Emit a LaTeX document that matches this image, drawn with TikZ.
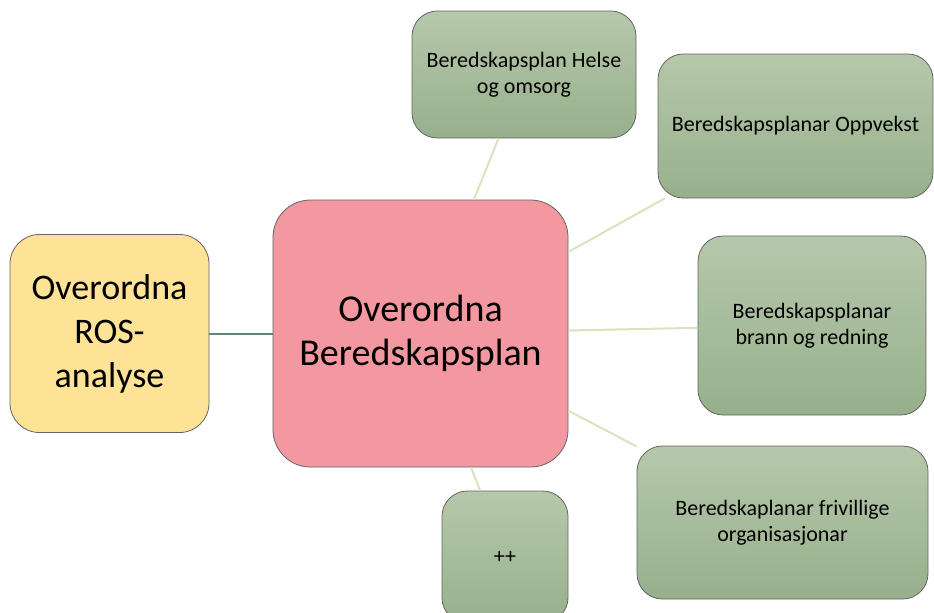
\documentclass[tikz,border=0pt]{standalone}
\usepackage{fontspec}
\setmainfont{Carlito}

\definecolor{greentop}{RGB}{182,200,171}
\definecolor{greenbot}{RGB}{151,176,139}
\definecolor{planpink}{RGB}{243,152,160}
\definecolor{rosyellow}{RGB}{254,227,150}
\definecolor{boxedge}{RGB}{100,100,100}
\definecolor{spokegreen}{RGB}{215,228,190}
\definecolor{rosline}{RGB}{94,134,120}

\tikzset{
  planbox/.style={draw=boxedge, line width=0.6pt, rounded corners=19pt,
    top color=greentop, bottom color=greenbot, align=center, inner sep=2pt,
    font=\fontsize{16.5}{19.5}\selectfont},
  mainbox/.style={draw=boxedge, line width=0.6pt, rounded corners=28pt,
    fill=planpink, align=center, font=\fontsize{28.5}{32.5}\selectfont},
  rosbox/.style={draw=boxedge, line width=0.6pt, rounded corners=22pt,
    fill=rosyellow, align=center, font=\fontsize{27}{33}\selectfont},
  spoke/.style={draw=spokegreen, line width=1.5pt},
  rosspoke/.style={draw=rosline, line width=1.5pt}
}

\begin{document}
\begin{tikzpicture}[x=0.75pt,y=0.75pt,yscale=-1,xscale=1]
\useasboundingbox (0,0) rectangle (934,612);

% Centre node
\node [mainbox, minimum width=221.25pt, minimum height=200.25pt] (main) at (420.5,333.5) {Overordna\\Beredskapsplan};
% ROS node
\node [rosbox, minimum width=149.25pt, minimum height=148.5pt] (ros) at (109.5,333.5) {Overordna\\ROS-\\analyse};

% Plan nodes
\node [planbox, minimum width=168pt, minimum height=95.25pt] (helse) at (524,74.5) {Beredskapsplan Helse\\og omsorg};
\node [planbox, minimum width=206.25pt, minimum height=108pt] (oppvekst) at (795.5,126) {Beredskapsplanar Oppvekst};
\node [planbox, minimum width=171pt, minimum height=134.25pt] (brann) at (812,325.5) {Beredskapsplanar\\brann og redning};
\node [planbox, minimum width=218.25pt, minimum height=114.75pt] (frivillige) at (782.5,522.5) {Beredskaplanar frivillige\\organisasjonar};
\node [planbox, minimum width=94.5pt, minimum height=99pt] (plus) at (505,557) {++};

% Connectors
\draw [rosspoke] (ros) -- (main);
\draw [spoke] (main) -- (helse);
\draw [spoke] (main) -- (oppvekst);
\draw [spoke] (main) -- (brann);
\draw [spoke] (main) -- (frivillige);
\draw [spoke] (main) -- (plus);

\end{tikzpicture}
\end{document}
